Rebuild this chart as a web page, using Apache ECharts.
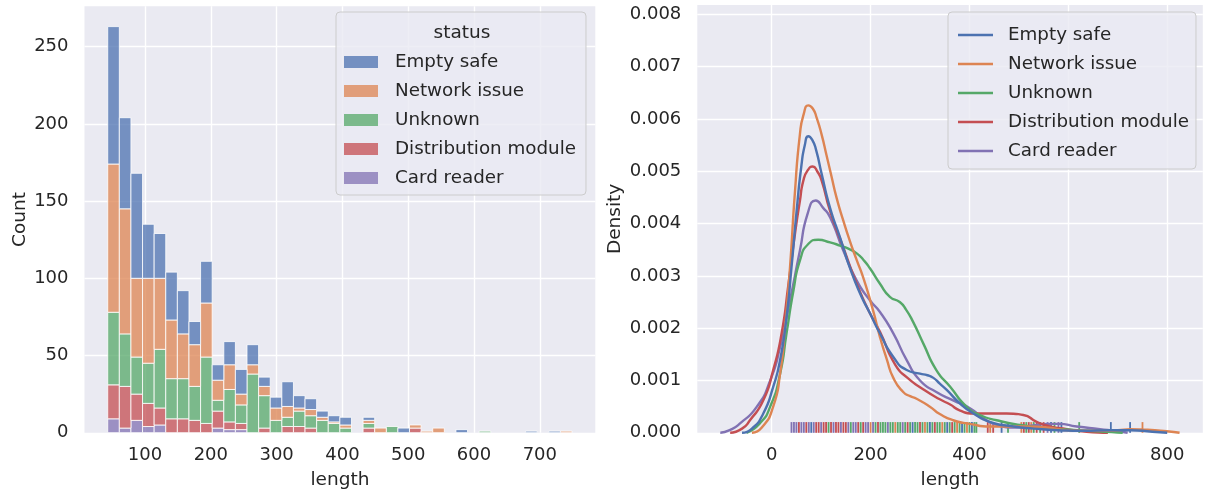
<!DOCTYPE html>
<html>
<head>
<meta charset="utf-8">
<script src="https://cdn.jsdelivr.net/npm/echarts@6/dist/echarts.min.js"></script>
<style>
html,body{margin:0;padding:0;background:#fff;}
#chart{width:1208px;height:493px;}
</style>
</head>
<body>
<div id="chart"></div>
<script>
// ---------- DATA ----------
const statuses = ['Empty safe', 'Network issue', 'Unknown', 'Distribution module', 'Card reader'];
const colors = ['#4c72b0', '#dd8452', '#55a868', '#c44e52', '#8172b3'];
const histColors = ['rgba(76,114,176,0.75)', 'rgba(221,132,82,0.75)', 'rgba(85,168,104,0.75)', 'rgba(196,78,82,0.75)', 'rgba(129,114,179,0.75)'];

// histogram bins (length)
const binStart = 43.3;
const binWidth = 17.64;
// counts per bin for each status (40 bins)
const countEmptySafe    = [89,59,68,35,29,31,28,15,27,10,15,16,13,6,7,16,8,7,4,4,5,0,2,0,0,3,0,0,0,0,2,0,0,0,0,0,1,0,1,0];
const countNetwork      = [96,81,51,55,46,38,29,27,35,13,16,7,6,6,8,7,2,4,2,1,2,0,2,3,0,0,2,1,3,0,0,0,0,0,0,0,0,0,0,1];
const countUnknown      = [47,34,24,26,38,26,26,22,43,7,21,12,38,21,8,6,10,8,8,6,3,0,3,0,4,0,0,0,0,0,0,0,1,0,0,0,0,0,0,0];
const countDistribution = [22,27,17,15,11,9,9,8,6,11,5,4,0,3,0,4,4,3,0,0,0,0,3,0,0,0,3,0,0,0,0,0,0,0,0,0,0,0,0,0];
const countCardReader   = [9,3,8,4,5,0,0,0,0,3,2,2,0,0,0,0,0,0,0,0,0,0,0,0,0,0,0,0,0,0,0,0,0,0,0,0,0,0,0,0];

// KDE curves [length, density]
const kdeEmptySafe = [[-60,0],[-40,0.00008],[-17,0.00037],[3,0.00088],[17,0.00139],[30,0.00221],[40,0.00316],[51,0.0043],[60,0.0051],[67,0.0055],[74,0.00567],[82,0.0056],[90,0.0054],[101,0.00495],[118,0.0043],[138,0.00374],[158,0.00316],[179,0.00266],[199,0.00228],[219,0.0019],[246,0.00145],[273,0.0012],[300,0.00113],[315,0.0011],[327,0.00105],[340,0.00094],[354,0.00082],[381,0.00056],[408,0.00037],[441,0.00021],[489,0.00012],[530,0.00008],[580,0.00005],[630,0.00004],[686,0.00005],[725,0.00005],[770,0.00002],[800,0]];
const kdeNetwork = [[-40,0],[-20,0.0001],[3,0.0005],[17,0.00113],[27,0.00202],[37,0.00316],[47,0.0046],[57,0.0057],[65,0.0061],[74,0.00626],[83,0.0062],[91,0.00602],[101,0.0057],[111,0.0053],[121,0.0049],[131,0.0045],[145,0.00405],[158,0.00367],[172,0.0033],[185,0.00297],[205,0.00234],[219,0.00183],[233,0.0014],[246,0.00105],[266,0.00078],[280,0.0007],[293,0.00065],[320,0.0005],[340,0.00036],[367,0.00024],[401,0.00017],[441,0.00012],[475,0.00012],[509,0.00012],[556,0.0001],[597,0.00005],[657,0.00004],[700,0.00005],[725,0.00007],[758,0.00006],[799,0.00003],[825,0]];
const kdeUnknown = [[-51,0],[-24,0.00018],[-3,0.0005],[17,0.00113],[30,0.0019],[44,0.00272],[57,0.00329],[74,0.00361],[94,0.00369],[118,0.00364],[138,0.00358],[155,0.00352],[172,0.00343],[186,0.0033],[199,0.00314],[219,0.00285],[239,0.0026],[259,0.0025],[272,0.00235],[286,0.00212],[307,0.0017],[333,0.0012],[361,0.00088],[394,0.0005],[421,0.00034],[455,0.00024],[502,0.00015],[556,0.00009],[616,0.00005],[660,0.00003],[710,0]];
const kdeDistribution = [[-84,0],[-60,0.00008],[-44,0.00024],[-17,0.00062],[3,0.0012],[20,0.0019],[34,0.00285],[47,0.0038],[57,0.00443],[64,0.00482],[73,0.00502],[83,0.00509],[92,0.005],[101,0.00482],[118,0.00424],[145,0.00354],[172,0.00285],[199,0.00228],[219,0.00193],[250,0.0013],[276,0.00104],[307,0.00083],[340,0.00064],[361,0.00054],[380,0.00043],[408,0.00037],[441,0.00037],[475,0.00037],[509,0.00034],[536,0.00021],[563,0.00012],[597,0.00007],[637,0.00002],[680,0]];
const kdeCardReader = [[-104,0],[-85,0.00005],[-64,0.00018],[-30,0.0005],[-3,0.001],[17,0.00164],[37,0.00253],[57,0.00348],[73,0.0042],[89,0.00444],[104,0.0043],[118,0.00412],[145,0.00348],[172,0.00291],[199,0.00253],[219,0.00231],[246,0.0019],[273,0.00139],[300,0.001],[333,0.00078],[367,0.00062],[401,0.00047],[428,0.00028],[455,0.00015],[489,0.0001],[536,0.00015],[563,0.00017],[580,0.00017],[617,0.00012],[664,0.00007],[700,0.00003],[720,0]];

// rug values (length)
const rugEmptySafe = [80,285,320,355,385,405,465,565,586,686,725];
const rugNetwork = [200,250,310,345,375,395,442,505,525,750];
const rugUnknown = [115,160,180,210,220,225,230,240,245,255,260,270,280,290,295,305,315,325,335,340,350,360,370,380,390,400,410,414,478,515,530,543,572,622];
const rugDistribution = [55,70,90,95,105,110,120,130,135,145,150,175,185,215,275,300,330,365,437,448,510,520,536,550];
const rugCardReader = [40,45,50,60,65,75,85,100,125,140,155,165,170,190,195,205,235,265,558,580];

// axis ticks
const histXTicks = [100,200,300,400,500,600,700];
const histYTicks = [0,50,100,150,200,250];
const kdeXTicks = [0,200,400,600,800];

// ---------- BUILD ----------
const counts = [countEmptySafe, countNetwork, countUnknown, countDistribution, countCardReader];
const kdes = [kdeEmptySafe, kdeNetwork, kdeUnknown, kdeDistribution, kdeCardReader];
const rugs = [rugEmptySafe, rugNetwork, rugUnknown, rugDistribution, rugCardReader];

const FONT = 'DejaVu Sans';
const TXT = '#262626';

// stacking: Card reader at bottom ... Empty safe on top
const nBins = countEmptySafe.length;
const histData = statuses.map(() => []);
for (let b = 0; b < nBins; b++) {
  let base = 0;
  for (let s = statuses.length - 1; s >= 0; s--) {
    const c = counts[s][b];
    if (c > 0) {
      histData[s].push([binStart + b * binWidth, binStart + (b + 1) * binWidth, base, base + c]);
    }
    base += c;
  }
}

const series = [];
for (let s = statuses.length - 1; s >= 0; s--) {
  const fill = histColors[s];
  series.push({
    type: 'custom', name: statuses[s], xAxisIndex: 0, yAxisIndex: 0,
    itemStyle: { color: fill },
    data: histData[s],
    renderItem: function (params, api) {
      const p0 = api.coord([api.value(0), api.value(3)]);
      const p1 = api.coord([api.value(1), api.value(2)]);
      return { type: 'rect', shape: { x: p0[0], y: p0[1], width: p1[0] - p0[0], height: p1[1] - p0[1] },
        style: { fill: fill, stroke: '#ffffff', lineWidth: 0.8 } };
    }
  });
}
for (let s = statuses.length - 1; s >= 0; s--) {
  series.push({
    type: 'line', name: statuses[s] + ' ', xAxisIndex: 1, yAxisIndex: 1,
    data: kdes[s], showSymbol: false, smooth: 0.6,
    lineStyle: { color: colors[s], width: 2.4 }, itemStyle: { color: colors[s] },
    silent: true
  });
}
for (let s = 0; s < statuses.length; s++) {
  const col = colors[s];
  series.push({
    type: 'custom', name: 'rug' + s, xAxisIndex: 1, yAxisIndex: 1,
    data: rugs[s].map(v => [v, 0]),
    renderItem: function (params, api) {
      const p = api.coord([api.value(0), 0]);
      return { type: 'line', shape: { x1: p[0], y1: p[1], x2: p[0], y2: p[1] - 10.7 },
        style: { stroke: col, lineWidth: 1.8 } };
    }
  });
}

const splitLine = { show: true, showMinLine: false, showMaxLine: false, lineStyle: { color: '#ffffff', width: 1.4 } };
const axisLabel = { color: TXT, fontFamily: FONT, fontSize: 18 };
const nameStyle = { color: TXT, fontFamily: FONT, fontSize: 18.5 };

const option = {
  animation: false,
  backgroundColor: '#ffffff',
  grid: [
    { left: 84.5, top: 6.3, width: 510.8, height: 426.4, show: true, backgroundColor: '#eaeaf2', borderWidth: 0, containLabel: false, outerBoundsMode: 'none' },
    { left: 697.3, top: 4.9, width: 505.5, height: 427.9, show: true, backgroundColor: '#eaeaf2', borderWidth: 0, containLabel: false, outerBoundsMode: 'none' }
  ],
  xAxis: [
    { type: 'value', gridIndex: 0, min: 8.0, max: 784.3, minInterval: 100, maxInterval: 100,
      axisLine: { show: false }, axisTick: { show: false }, splitLine: splitLine,
      axisLabel: Object.assign({}, axisLabel, { margin: 14, showMinLabel: false, showMaxLabel: false,
        formatter: v => histXTicks.indexOf(Math.round(v)) >= 0 && Math.abs(v - Math.round(v)) < 1e-6 ? String(Math.round(v)) : '' }),
      name: 'length', nameLocation: 'middle', nameGap: 38, nameTextStyle: nameStyle },
    { type: 'value', gridIndex: 1, min: -150.5, max: 872, minInterval: 200, maxInterval: 200,
      axisLine: { show: false }, axisTick: { show: false }, splitLine: splitLine,
      axisLabel: Object.assign({}, axisLabel, { margin: 14, showMinLabel: false, showMaxLabel: false,
        formatter: v => kdeXTicks.indexOf(Math.round(v)) >= 0 && Math.abs(v - Math.round(v)) < 1e-6 ? String(Math.round(v)) : '' }),
      name: 'length', nameLocation: 'middle', nameGap: 38, nameTextStyle: nameStyle }
  ],
  yAxis: [
    { type: 'value', gridIndex: 0, min: 0, max: 276.15, interval: 50,
      axisLine: { show: false }, axisTick: { show: false }, splitLine: splitLine,
      axisLabel: Object.assign({}, axisLabel, { margin: 16, showMaxLabel: false,
        formatter: v => histYTicks.indexOf(v) >= 0 ? String(v) : '' }),
      name: 'Count', nameLocation: 'middle', nameGap: 55, nameTextStyle: nameStyle },
    { type: 'value', gridIndex: 1, min: 0, max: 0.00818, interval: 0.001,
      axisLine: { show: false }, axisTick: { show: false }, splitLine: splitLine,
      axisLabel: Object.assign({}, axisLabel, { margin: 16, showMaxLabel: false,
        formatter: v => v <= 0.00805 ? v.toFixed(3) : '' }),
      name: 'Density', nameLocation: 'middle', nameGap: 73, nameTextStyle: nameStyle }
  ],
  legend: [
    { left: 336, top: 12, orient: 'vertical', padding: [41, 10, 8, 8],
      backgroundColor: 'rgba(234,234,242,0.8)', borderColor: '#cccccc', borderWidth: 1, borderRadius: 4,
      itemWidth: 34, itemHeight: 12, itemGap: 11, icon: 'rect', selectedMode: false,
      textStyle: { color: TXT, fontFamily: FONT, fontSize: 18.3, lineHeight: 18, padding: [0, 0, 0, 12] },
      data: statuses.map((n, i) => ({ name: n, itemStyle: { color: histColors[i], borderWidth: 0 } })) },
    { left: 948, top: 12, orient: 'vertical', padding: [14, 7, 9, 10],
      backgroundColor: 'rgba(234,234,242,0.8)', borderColor: '#cccccc', borderWidth: 1, borderRadius: 4,
      itemWidth: 35, itemHeight: 2.4, itemGap: 11, icon: 'rect', selectedMode: false,
      textStyle: { color: TXT, fontFamily: FONT, fontSize: 18.3, lineHeight: 18, padding: [0, 0, 0, 10] },
      data: statuses.map((n, i) => ({ name: n + ' ', itemStyle: { color: colors[i], borderWidth: 0 } })),
      formatter: n => n.trim() }
  ],
  graphic: [
    { type: 'text', x: 462, y: 33, z: 100,
      style: { text: 'status', align: 'center', verticalAlign: 'middle', fill: TXT, font: '18.5px "DejaVu Sans"' } }
  ],
  series: series
};

const chart = echarts.init(document.getElementById('chart'), null, { renderer: 'canvas' });
chart.setOption(option);
</script>
</body>
</html>
